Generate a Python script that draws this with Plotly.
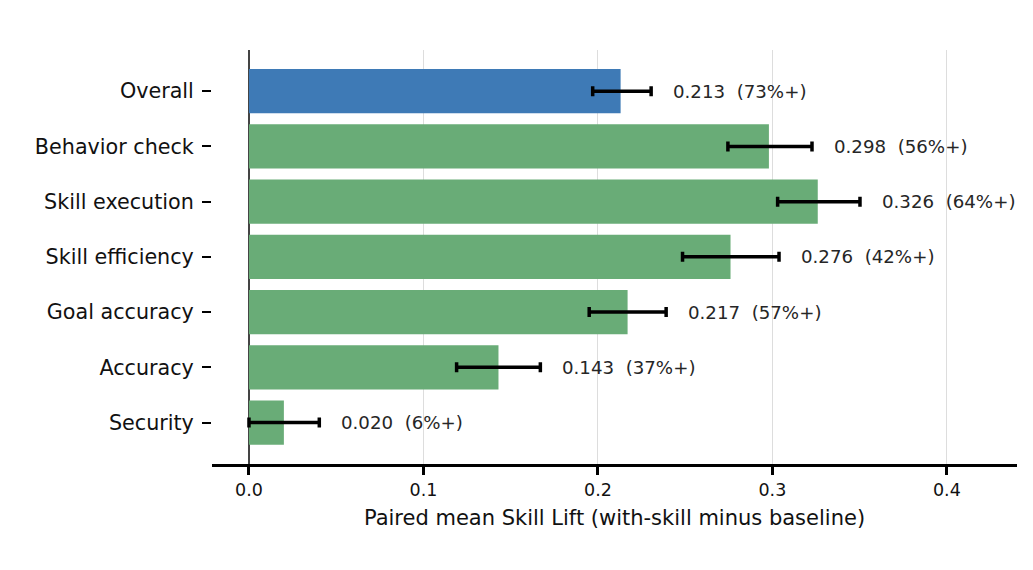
import plotly.graph_objects as go

# --- Data ---
labels = ["Overall", "Behavior check", "Skill execution", "Skill efficiency",
          "Goal accuracy", "Accuracy", "Security"]
mean_lift = [0.213, 0.298, 0.326, 0.276, 0.217, 0.143, 0.020]
ci_low = [0.197, 0.2745, 0.303, 0.2485, 0.195, 0.119, 0.000]
ci_high = [0.2305, 0.3227, 0.3502, 0.3038, 0.2391, 0.1670, 0.0403]
pct_positive = [73, 56, 64, 42, 57, 37, 6]
x_ticks = [0.0, 0.1, 0.2, 0.3, 0.4]

BLUE = "#3e7ab6"
GREEN = "#69ac77"
FONT = "DejaVu Sans"

colors = [BLUE if lab == "Overall" else GREEN for lab in labels]
err_plus = [h - m for h, m in zip(ci_high, mean_lift)]
err_minus = [m - l for m, l in zip(mean_lift, ci_low)]

fig = go.Figure()
fig.add_trace(go.Bar(
    x=mean_lift, y=labels, orientation="h",
    width=0.8,
    marker=dict(color=colors, line=dict(width=0)),
    error_x=dict(type="data", symmetric=False, array=err_plus,
                 arrayminus=err_minus, color="black", thickness=3.5, width=5),
    showlegend=False,
))

# value labels to the right of each CI
for lab, m, hi, p in zip(labels, mean_lift, ci_high, pct_positive):
    fig.add_annotation(
        x=hi, y=lab, xshift=20, xanchor="left", yanchor="middle",
        text=f"{m:.3f}\u00a0\u00a0({p}%+)", showarrow=False,
        font=dict(family=FONT, size=18.2, color="#262626"),
    )

fig.update_xaxes(
    range=[-0.0212, 0.4402],
    tickvals=x_ticks, ticktext=[f"{v:.1f}" for v in x_ticks],
    showgrid=True, gridcolor="#dddddd", gridwidth=1,
    zeroline=True, zerolinecolor="#444444", zerolinewidth=1.7,
    showline=True, linecolor="black", linewidth=2.5,
    ticks="outside", ticklen=8, tickwidth=2.5, tickcolor="black",
    tickfont=dict(family=FONT, size=17.5, color="#111111"),
    title=dict(text="Paired mean Skill Lift (with-skill minus baseline)",
               font=dict(family=FONT, size=21, color="#111111"), standoff=12),
    layer="above traces",
)
fig.update_yaxes(
    categoryorder="array", categoryarray=labels,
    range=[6.75, -0.745],
    showgrid=False, zeroline=False, showline=False,
    ticks="outside", ticklen=9, tickwidth=2, tickcolor="black",
    ticklabelstandoff=4,
    tickfont=dict(family=FONT, size=20.7, color="#111111"),
)

fig.update_layout(
    width=1033, height=570,
    margin=dict(l=204, r=24, t=42, b=114),
    plot_bgcolor="white", paper_bgcolor="white",
    font=dict(family=FONT),
    bargap=0.2,
)

fig.write_html("out.html")
